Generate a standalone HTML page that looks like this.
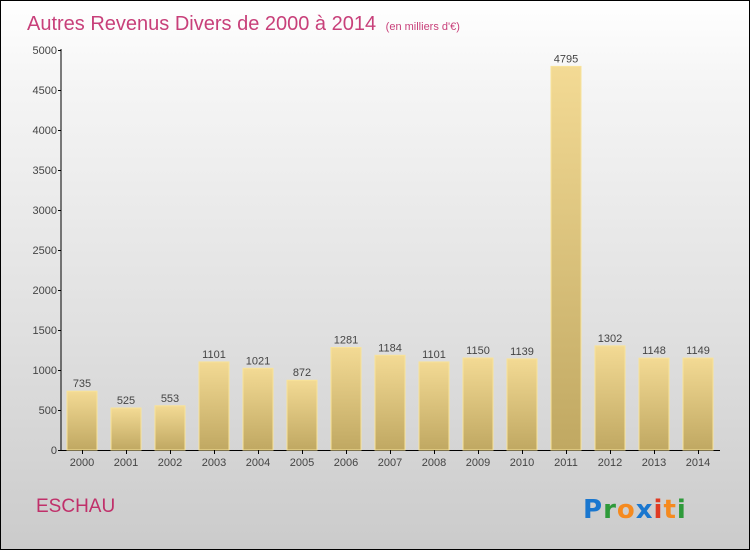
<!DOCTYPE html>
<html><head><meta charset="utf-8"><style>
body{margin:0}
#c{width:750px;height:550px;position:relative;box-sizing:border-box;border:1px solid #000;background:linear-gradient(#fff,#f5f5f5 15%,#e0e0e0 60%,#cbcbcb);font-family:"Liberation Sans",sans-serif;overflow:hidden}
</style></head><body>
<div id="c">
<svg width="748" height="548" style="position:absolute;left:0;top:0" id="s">
<defs><linearGradient id="g" x1="0" y1="0" x2="0" y2="1"><stop offset="0" stop-color="#f3da94"/><stop offset="1" stop-color="#c0a862"/></linearGradient></defs>
<text x="26" y="29" font-size="20" fill="#c8407a">Autres Revenus Divers de 2000 à 2014 <tspan font-size="11" dx="4">(en milliers d'€)</tspan></text>
<text x="35" y="511" font-size="19" fill="#c0306a">ESCHAU</text>
<g font-size="26" font-weight="bold" font-family="'DejaVu Sans',sans-serif"><text x="582" y="517" letter-spacing="1"><tspan fill="#1a77cf">P</tspan><tspan fill="#2e9a3a">r</tspan><tspan fill="#f58a1f">o</tspan><tspan fill="#1a77cf">x</tspan><tspan fill="#e03a22">i</tspan><tspan fill="#f58a1f">t</tspan><tspan fill="#2e9a3a">i</tspan></text></g>
<g id="plot"></g>
</svg>
</div>
<script>
const years=["2000","2001","2002","2003","2004","2005","2006","2007","2008","2009","2010","2011","2012","2013","2014"];
const values=[735,525,553,1101,1021,872,1281,1184,1101,1150,1139,4795,1302,1148,1149];
const ticks=[0,500,1000,1500,2000,2500,3000,3500,4000,4500,5000];
const NS="http://www.w3.org/2000/svg";
const g=document.getElementById('plot');
const y0=449,yk=400/5000,ax=60;
const yS=v=>y0-v*yk, xS=i=>81+i*44;
function el(t,a){const e=document.createElementNS(NS,t);for(const k in a)e.setAttribute(k,a[k]);g.appendChild(e);return e;}
let ln=el('line',{x1:ax,y1:yS(5000)-1,x2:ax,y2:y0+0.5,stroke:'#000'});


ln=el('line',{x1:ax,y1:y0+0.5,x2:719,y2:y0+0.5,stroke:'#000'});


ticks.forEach(t=>{
 const y=yS(t);
 el('line',{x1:ax-3,y1:y+0.5,x2:ax,y2:y+0.5,stroke:'#000'});
 const tx=el('text',{x:ax-4,y:y+4,'font-size':11,fill:'#444','text-anchor':'end'});tx.textContent=t;
 
 
});
values.forEach((v,i)=>{
 const x=xS(i);
 const r=el('rect',{x:x-15,y:yS(v),width:30,height:y0-yS(v),fill:'url(#g)',stroke:'#f8e39a','stroke-width':1});
 
 
 const t=el('text',{x:x,y:yS(v)-4,'font-size':11,fill:'#444','text-anchor':'middle'});t.textContent=v;
 
 
 el('line',{x1:x+0.5,y1:y0,x2:x+0.5,y2:y0+4,stroke:'#000'});
 const l=el('text',{x:x,y:y0+16,'font-size':11,fill:'#444','text-anchor':'middle'});l.textContent=years[i];
 
 
});
</script>
</body></html>
